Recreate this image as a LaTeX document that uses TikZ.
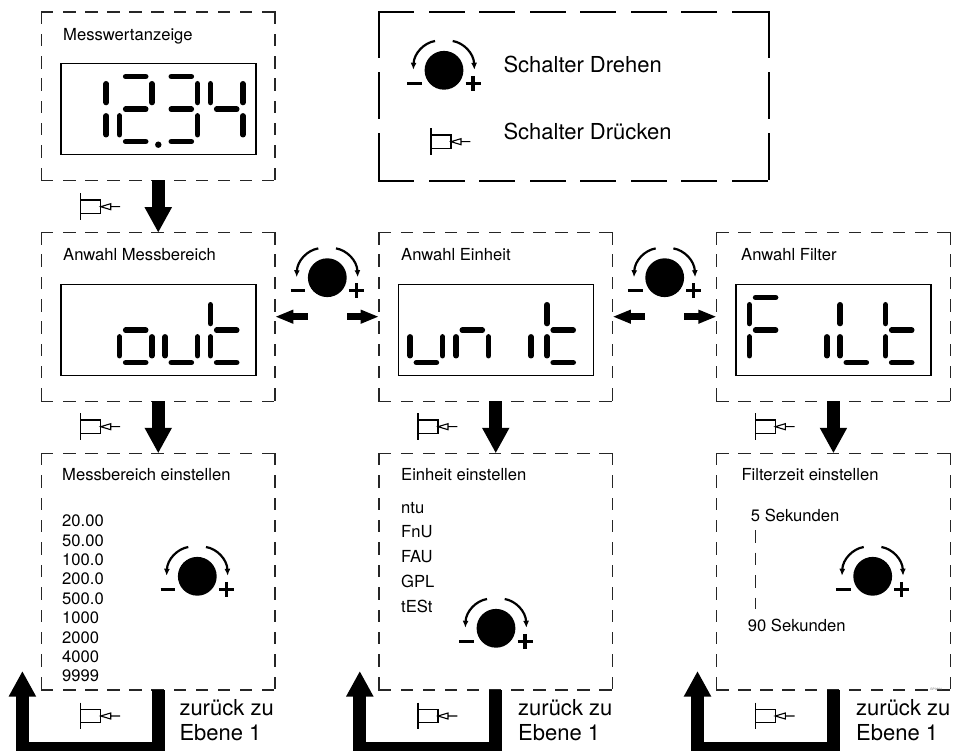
\documentclass[tikz,border=0pt]{standalone}
\usepackage{fontspec}
\setmainfont{TeX Gyre Heros}
\usetikzlibrary{arrows.meta}
\newcommand{\ssega}{\draw[segline] (\cx-10,13.3) -- (\cx+10,13.3);}
\newcommand{\ssegg}{\draw[segline] (\cx-10,46) -- (\cx+10,46);}
\newcommand{\ssegd}{\draw[segline] (\cx-10,78.3) -- (\cx+10,78.3);}
\newcommand{\ssegf}{\draw[segline] (\cx-16.2,20.5) -- (\cx-16.2,39.2);}
\newcommand{\ssegb}{\draw[segline] (\cx+16.2,20.5) -- (\cx+16.2,39.2);}
\newcommand{\ssege}{\draw[segline] (\cx-16.2,52.6) -- (\cx-16.2,71.4);}
\newcommand{\ssegc}{\draw[segline] (\cx+16.2,52.6) -- (\cx+16.2,71.4);}
\newcommand{\digit}[2]{\def\cx{#1}\foreach \s in {#2}{\csname sseg\s\endcsname}}
% dashed frame whose dashes meet at all four corners of a node
\newcommand{\frameit}[3]{%
  \draw[#2] (#1.north west) -- (#1.north east);
  \draw[#2] (#1.south west) -- (#1.south east);
  \draw[#3] (#1.north west) -- (#1.south west);
  \draw[#3] (#1.north east) -- (#1.south east);
}
\tikzset{
  x=1pt,y=-1pt,
  panelbase/.style={line width=1.1pt,black!85,line cap=rect},
  panelh/.style={panelbase,dash pattern=on 11.4pt off 10.7pt},
  panelv/.style={panelbase,dash pattern=on 11.4pt off 10.9pt},
  panelvt/.style={panelbase,dash pattern=on 11.4pt off 11pt},
  legendh/.style={line width=2pt,black,line cap=rect,dash pattern=on 34.2pt off 16.3pt},
  legendv/.style={line width=2pt,black,line cap=rect,dash pattern=on 44.6pt off 16.6pt},
  panel/.style={minimum width=233.5pt,minimum height=168.5pt,anchor=north west,inner sep=0pt,outer sep=0pt},
  lowpanel/.style={panel,minimum height=236.7pt},
  legendbox/.style={minimum width=389.7pt,minimum height=169pt,anchor=north west,inner sep=0pt,outer sep=0pt},
  display/.style={draw=black,line width=1.2pt,minimum width=195pt,minimum height=91.2pt,anchor=north west,inner sep=0pt,outer sep=0pt},
  segline/.style={line width=5.6pt,line cap=round,black},
  label/.style={anchor=base west,inner sep=0pt,font=\fontsize{16.6pt}{18pt}\selectfont},
  biglabel/.style={anchor=base west,inner sep=0pt,font=\fontsize{22pt}{24pt}\selectfont},
  bigarrow/.style={line width=13pt,-{Triangle[length=25.5pt,width=25.5pt]},black},
  sidearrow/.style={line width=7pt,-{Triangle[length=18.3pt,width=12.7pt]},black},
  knob/.pic={
    \fill[black] (0,0) circle[radius=19.4];
    \draw[line width=2.2pt,-{Latex[length=7pt,width=6pt]}] (-9,-29.3) .. controls (-20,-27.5) and (-30,-17) .. (-30.7,-0.5);
    \draw[line width=2.2pt,-{Latex[length=7pt,width=6pt]}] (8.7,-29.3) .. controls (19.7,-27.5) and (29.7,-17) .. (30.4,-0.5);
    \draw[line width=3.2pt] (-36.8,13) -- (-22,13);
    \draw[line width=3.2pt] (21.5,13) -- (36.5,13) (29,5.5) -- (29,20.5);
  },
  pusher/.pic={
    \draw[line width=1.2pt] (0,-13.3) -- (0,13.3);
    \draw[line width=1.2pt] (0,-6.7) rectangle (20,6.7);
    \draw[line width=1.1pt] (20,0) -- (30,-3) -- (30,3) -- cycle (30,0) -- (39.3,0);
  }
}
\begin{document}
\begin{tikzpicture}
\useasboundingbox (0,0) rectangle (954,751);
% panels
\node[panel] (mess) at (41.5,12) {};
\node[panel] (amess) at (41.5,232.7) {};
\node[panel] (aein) at (379,232.7) {};
\node[panel] (afil) at (716.7,232.7) {};
\node[lowpanel] (emess) at (41.5,453.3) {};
\node[lowpanel] (eein) at (379,453.3) {};
\node[lowpanel] (efil) at (716.7,453.3) {};
\node[legendbox] (legend) at (379,12) {};
\frameit{mess}{panelh}{panelv}
\frameit{amess}{panelh}{panelv}
\frameit{aein}{panelh}{panelv}
\frameit{afil}{panelh}{panelv}
\frameit{emess}{panelh}{panelvt}
\frameit{eein}{panelh}{panelvt}
\frameit{efil}{panelh}{panelvt}
\frameit{legend}{legendh}{legendv}
% displays
\node[display] (d1) at (61,63.3) {};
\node[display] (d2) at (61,284.3) {};
\node[display] (d3) at (398.7,284.3) {};
\node[display] (d4) at (736,284.3) {};
\begin{scope}[shift={(d1.north west)}]
  \digit{29}{b,c}
  \digit{74.7}{a,b,g,e,d}
  \digit{120.3}{a,b,g,c,d}
  \digit{165.7}{f,b,g,c}
  \fill (97.3,81.4) circle[radius=3.2];
\end{scope}
\begin{scope}[shift={(d2.north west)}]
  \digit{74.7}{g,c,d,e}
  \digit{120.3}{c,d,e}
  \digit{165.7}{f,e,g,d}
\end{scope}
\begin{scope}[shift={(d3.north west)}]
  \digit{27.7}{e,d,c}
  \digit{73.6}{e,g,c}
  \digit{116.1}{c}
  \digit{164.5}{f,e,g,d}
\end{scope}
\begin{scope}[shift={(d4.north west)}]
  \digit{29.6}{a,f,g,e}
  \digit{74.7}{c}
  \digit{120.3}{f,e,d}
  \digit{165.7}{f,e,g,d}
\end{scope}
% titles
\node[label] (t1) at (63,40.7) {Messwertanzeige};
\node[label] (t2) at (63,260.7) {Anwahl Messbereich};
\node[label] (t3) at (401,260.7) {Anwahl Einheit};
\node[label] (t4) at (741,260.7) {Anwahl Filter};
\node[label] (t5) at (62,480) {Messbereich einstellen};
\node[label] (t6) at (401,480) {Einheit einstellen};
\node[label] (t7) at (741.3,480) {Filterzeit einstellen};
% legend
\node[biglabel] (l1) at (503.3,72.7) {Schalter Drehen};
\node[biglabel] (l2) at (503.3,139.3) {Schalter Drücken};
\pic at (444,70.3) {knob};
\pic at (431,141.7) {pusher};
% lists
\node[label] (m1) at (62,526.7) {20.00};
\node[label] (m2) at (62,546.1) {50.00};
\node[label] (m3) at (62,565.5) {100.0};
\node[label] (m4) at (62,584.9) {200.0};
\node[label] (m5) at (62,604.3) {500.0};
\node[label] (m6) at (62,623.7) {1000};
\node[label] (m7) at (62,643.1) {2000};
\node[label] (m8) at (62,662.5) {4000};
\node[label] (m9) at (62,681.9) {9999};
\node[label] (u1) at (401,513) {ntu};
\node[label] (u2) at (401,537.6) {FnU};
\node[label] (u3) at (401,562.2) {FAU};
\node[label] (u4) at (401,587) {GPL};
\node[label] (u5) at (401,612.3) {tESt};
\node[label] (f1) at (750.7,521) {5 Sekunden};
\node[label] (f2) at (747.7,631) {90 Sekunden};
\coordinate (fa) at (755.3,530);
\coordinate (fb) at (755.3,609);
\draw[line width=1.1pt,black!85,dash pattern=on 12.5pt off 10pt] (fa) -- (fb);
% knobs
\pic at (327.3,277.7) {knob};
\pic at (664.7,277.7) {knob};
\pic at (197.3,576.3) {knob};
\pic at (496,628.3) {knob};
\pic at (872.7,576.3) {knob};
% pushers
\pic at (80.7,206.7) {pusher};
\pic at (80.7,426.7) {pusher};
\pic at (418,426.7) {pusher};
\pic at (755.3,426.7) {pusher};
\pic at (80.7,716) {pusher};
\pic at (418,716) {pusher};
\pic at (755.3,716) {pusher};
% big arrows
\draw[bigarrow] (mess) -- (amess);
\draw[bigarrow] (amess) -- (emess);
\draw[bigarrow] (aein) -- (eein);
\draw[bigarrow] (afil) -- (efil);
% side arrows
\coordinate (s1) at (307.7,316.7);
\coordinate (s2) at (347,316.7);
\coordinate (s3) at (645,316.7);
\coordinate (s4) at (684.4,316.7);
\draw[sidearrow] (s1) -- (amess.east |- s1);
\draw[sidearrow] (s2) -- (aein.west |- s2);
\draw[sidearrow] (s3) -- (aein.east |- s3);
\draw[sidearrow] (s4) -- (afil.west |- s4);
% return arrows
\coordinate (ra1) at (22.4,748.5);
\coordinate (rb1) at (22.4,671);
\coordinate (ra2) at (359.8,748.5);
\coordinate (rb2) at (359.8,671);
\coordinate (ra3) at (697.5,748.5);
\coordinate (rb3) at (697.5,671);
\draw[bigarrow] (emess.south) |- (ra1) -- (rb1);
\draw[bigarrow] (eein.south) |- (ra2) -- (rb2);
\draw[bigarrow] (efil.south) |- (ra3) -- (rb3);
% return labels
\node[biglabel] (z1) at (179.3,715) {zurück zu};
\node[biglabel] (e1) at (179.3,740) {Ebene 1};
\node[biglabel] (z2) at (518,715) {zurück zu};
\node[biglabel] (e2) at (518,740) {Ebene 1};
\node[biglabel] (z3) at (856,715) {zurück zu};
\node[biglabel] (e3) at (856,740) {Ebene 1};
\node[anchor=base west,inner sep=0pt,font=\fontsize{3.2pt}{4pt}\selectfont,text=black!55] (code) at (930,690.3) {GP0664};
\end{tikzpicture}
\end{document}
